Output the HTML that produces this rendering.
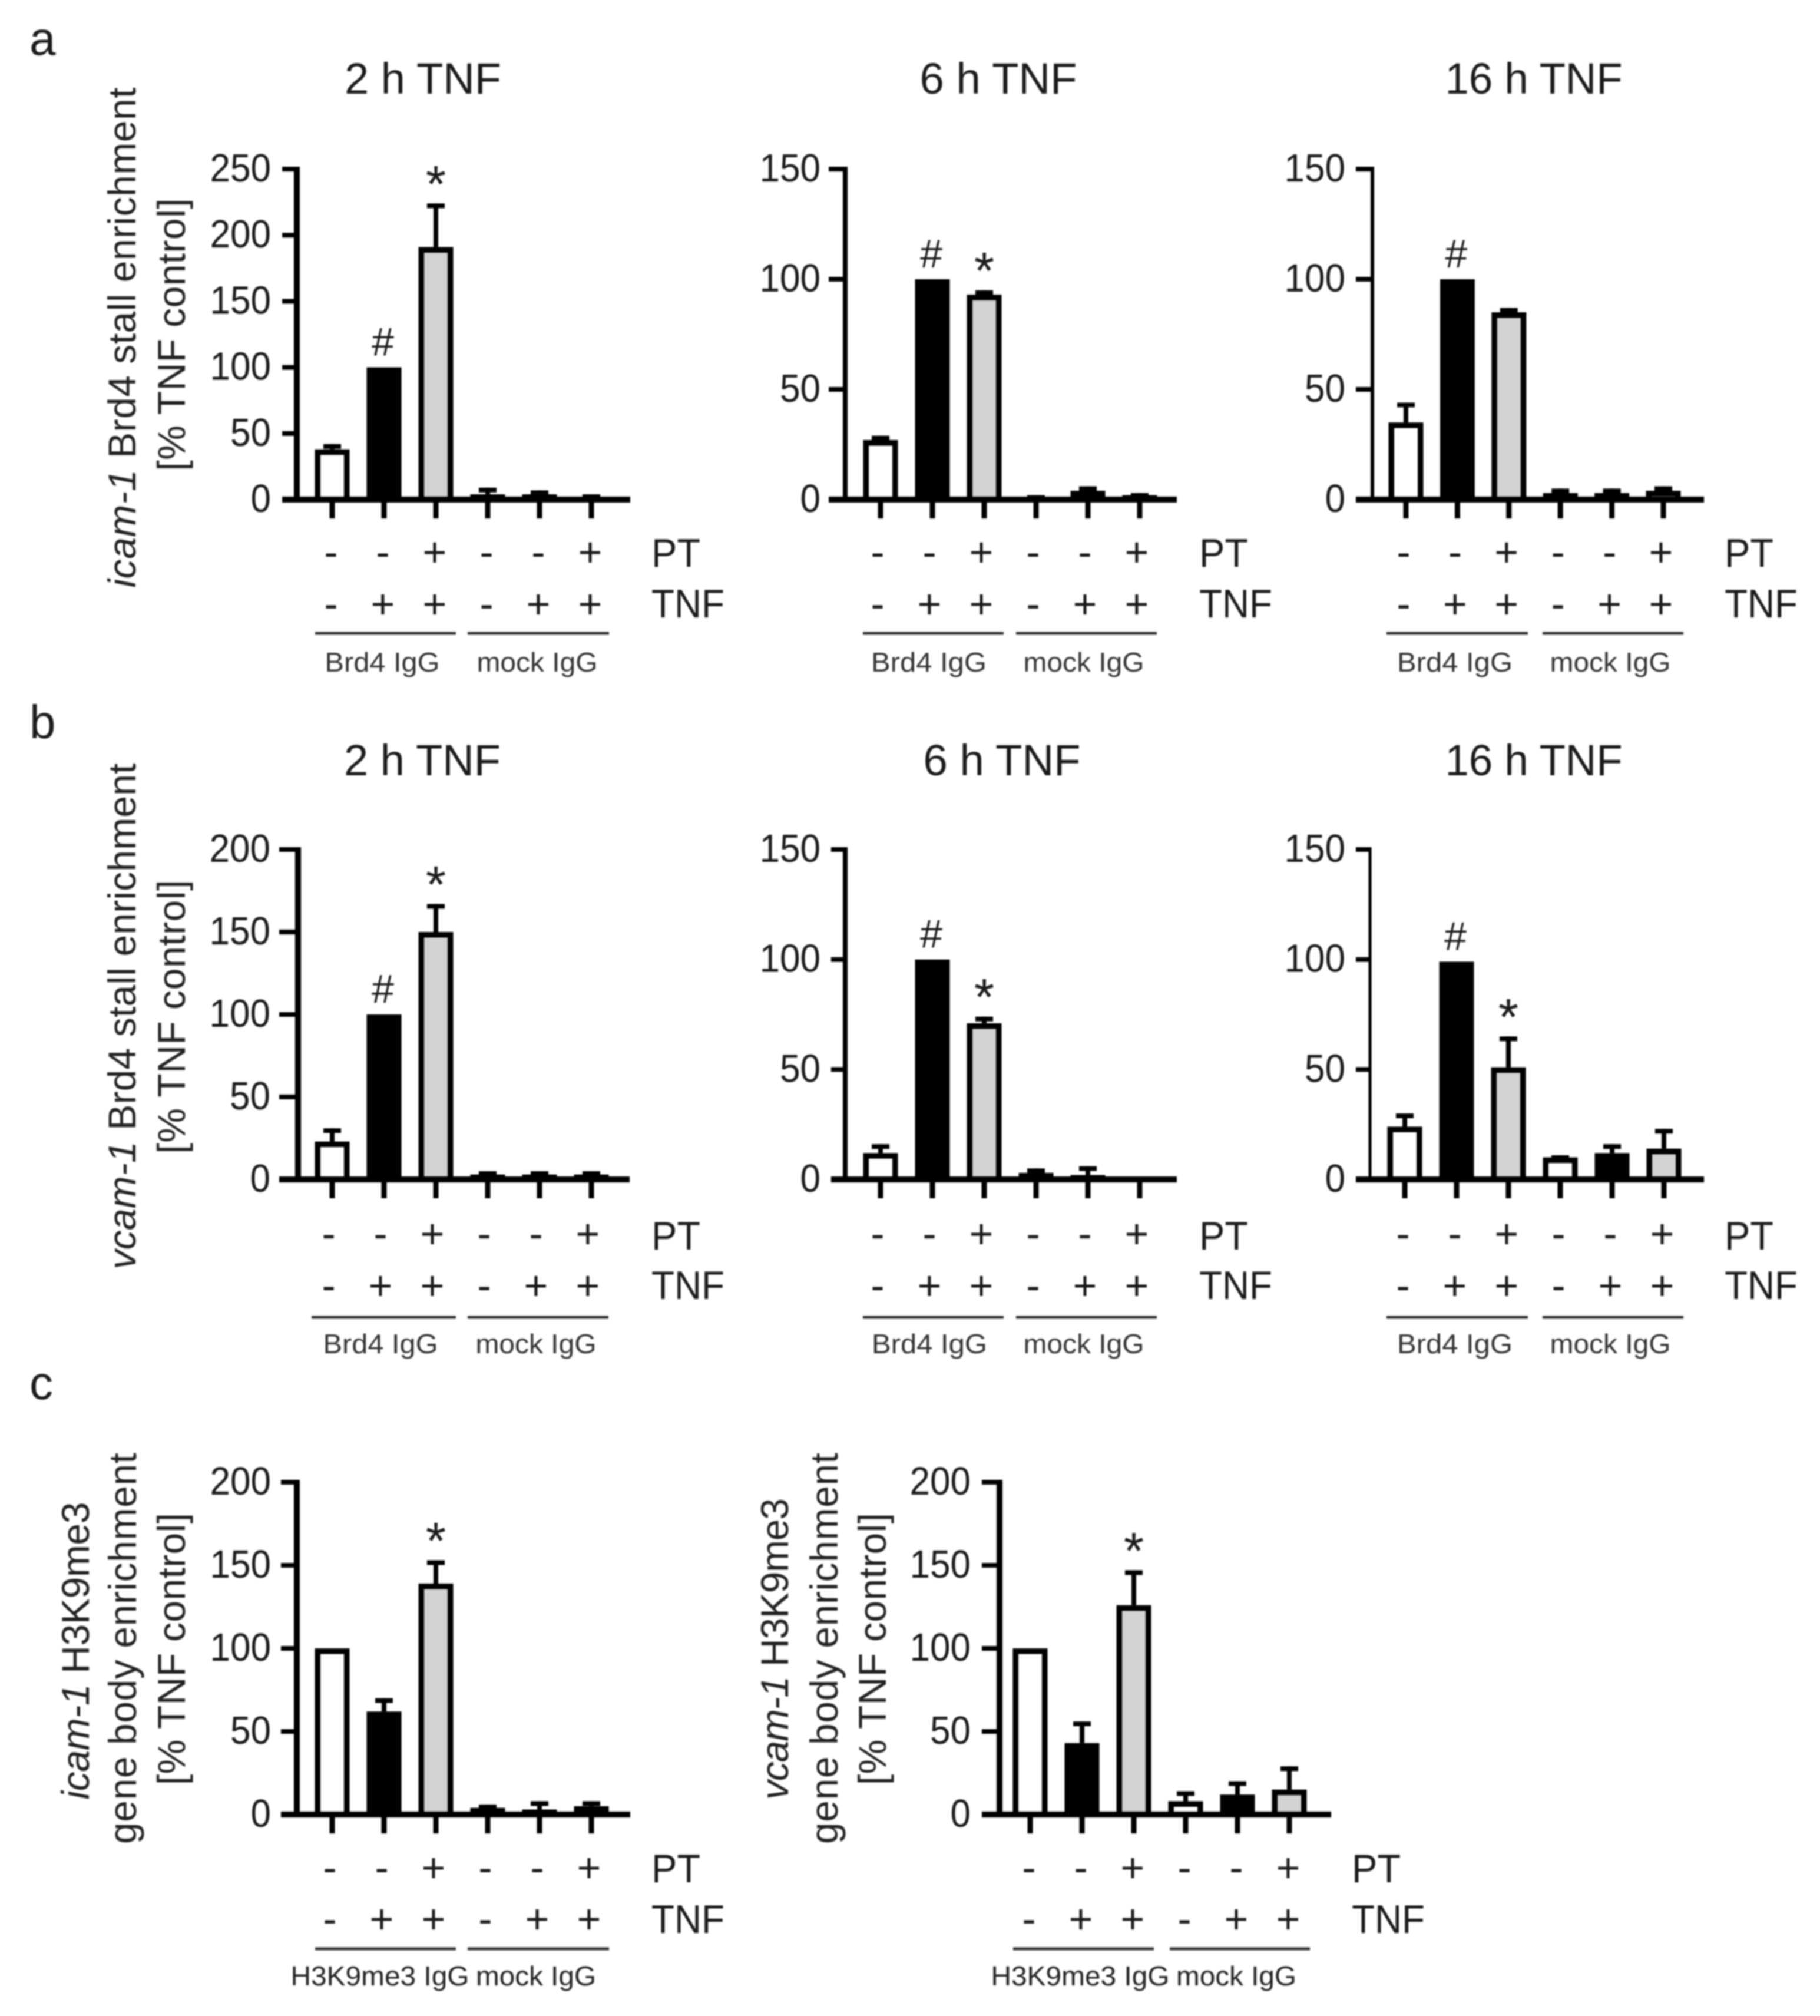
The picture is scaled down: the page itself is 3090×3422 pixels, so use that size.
<!DOCTYPE html>
<html lang="en">
<head>
<meta charset="utf-8">
<title>Brd4 and H3K9me3 enrichment bar charts</title>
<style>
html,body{margin:0;padding:0;background:#fff;width:3090px;height:3422px;overflow:hidden}
svg{display:block;filter:blur(1.3px)}
text{font-family:"Liberation Sans",sans-serif;fill:#1a1a1a}
.title{font-size:74px;text-anchor:middle}
.letter{font-size:80px}
.ytitle{font-size:66px;text-anchor:middle;fill:#222}
.cond{font-size:68px}
.grp{font-size:46px;text-anchor:middle;fill:#333}
.gline{stroke:#333;stroke-width:5}
</style>
</head>
<body>
<svg id="fig" xmlns="http://www.w3.org/2000/svg" width="3090" height="3422" viewBox="0 0 3090 3422">
<rect width="3090" height="3422" fill="#fff"/>

<text class="letter" x="50" y="93">a</text>
<text class="letter" x="50" y="1253">b</text>
<text class="letter" x="50" y="2375">c</text>

<text class="title" x="718" y="159">2 h TNF</text>
<text class="title" x="1695" y="159" textLength="267" lengthAdjust="spacingAndGlyphs">6 h TNF</text>
<text class="title" x="2604" y="159" textLength="301" lengthAdjust="spacingAndGlyphs">16 h TNF</text>
<text class="title" x="717" y="1316">2 h TNF</text>
<text class="title" x="1701" y="1316" textLength="267" lengthAdjust="spacingAndGlyphs">6 h TNF</text>
<text class="title" x="2604" y="1316" textLength="301" lengthAdjust="spacingAndGlyphs">16 h TNF</text>

<text class="ytitle" transform="translate(230,573) rotate(-90)" textLength="849"><tspan font-style="italic">icam-1</tspan> Brd4 stall enrichment</text>
<text class="ytitle" transform="translate(314,568) rotate(-90)" textLength="463">[% TNF control]</text>
<text class="ytitle" transform="translate(230,1725) rotate(-90)" textLength="859"><tspan font-style="italic">vcam-1</tspan> Brd4 stall enrichment</text>
<text class="ytitle" transform="translate(314,1726) rotate(-90)" textLength="465">[% TNF control]</text>
<text class="ytitle" transform="translate(151,2802) rotate(-90)" textLength="505"><tspan font-style="italic">icam-1</tspan> H3K9me3</text>
<text class="ytitle" transform="translate(231,2798) rotate(-90)" textLength="664">gene body enrichment</text>
<text class="ytitle" transform="translate(314,2799) rotate(-90)" textLength="462">[% TNF control]</text>
<text class="ytitle" transform="translate(1338,2799) rotate(-90)" textLength="512"><tspan font-style="italic">vcam-1</tspan> H3K9me3</text>
<text class="ytitle" transform="translate(1422,2798) rotate(-90)" textLength="664">gene body enrichment</text>
<text class="ytitle" transform="translate(1504,2799) rotate(-90)" textLength="462">[% TNF control]</text>

<text class="cond" x="1106" y="962" textLength="83" lengthAdjust="spacingAndGlyphs">PT</text>
<text class="cond" x="1106" y="1048" textLength="124" lengthAdjust="spacingAndGlyphs">TNF</text>
<text class="cond" x="2036" y="962" textLength="83" lengthAdjust="spacingAndGlyphs">PT</text>
<text class="cond" x="2036" y="1048" textLength="124" lengthAdjust="spacingAndGlyphs">TNF</text>
<text class="cond" x="2928" y="962" textLength="83" lengthAdjust="spacingAndGlyphs">PT</text>
<text class="cond" x="2928" y="1048" textLength="124" lengthAdjust="spacingAndGlyphs">TNF</text>
<text class="cond" x="1106" y="2121" textLength="83" lengthAdjust="spacingAndGlyphs">PT</text>
<text class="cond" x="1106" y="2205" textLength="124" lengthAdjust="spacingAndGlyphs">TNF</text>
<text class="cond" x="2036" y="2121" textLength="83" lengthAdjust="spacingAndGlyphs">PT</text>
<text class="cond" x="2036" y="2205" textLength="124" lengthAdjust="spacingAndGlyphs">TNF</text>
<text class="cond" x="2928" y="2121" textLength="83" lengthAdjust="spacingAndGlyphs">PT</text>
<text class="cond" x="2928" y="2205" textLength="124" lengthAdjust="spacingAndGlyphs">TNF</text>
<text class="cond" x="1106" y="3195" textLength="83" lengthAdjust="spacingAndGlyphs">PT</text>
<text class="cond" x="1106" y="3281" textLength="124" lengthAdjust="spacingAndGlyphs">TNF</text>
<text class="cond" x="2295" y="3195" textLength="83" lengthAdjust="spacingAndGlyphs">PT</text>
<text class="cond" x="2295" y="3281" textLength="124" lengthAdjust="spacingAndGlyphs">TNF</text>

<line class="gline" x1="535" x2="774" y1="1075" y2="1075"/>
<line class="gline" x1="794" x2="1034" y1="1075" y2="1075"/>
<line class="gline" x1="1465" x2="1704" y1="1075" y2="1075"/>
<line class="gline" x1="1725" x2="1964" y1="1075" y2="1075"/>
<line class="gline" x1="2354" x2="2594" y1="1075" y2="1075"/>
<line class="gline" x1="2619" x2="2858" y1="1075" y2="1075"/>
<line class="gline" x1="529" x2="774" y1="2236" y2="2236"/>
<line class="gline" x1="794" x2="1033" y1="2236" y2="2236"/>
<line class="gline" x1="1465" x2="1704" y1="2236" y2="2236"/>
<line class="gline" x1="1725" x2="1964" y1="2236" y2="2236"/>
<line class="gline" x1="2354" x2="2594" y1="2236" y2="2236"/>
<line class="gline" x1="2619" x2="2858" y1="2236" y2="2236"/>
<line class="gline" x1="535" x2="774" y1="3308" y2="3308"/>
<line class="gline" x1="794" x2="1034" y1="3308" y2="3308"/>
<line class="gline" x1="1720" x2="1959" y1="3308" y2="3308"/>
<line class="gline" x1="1986" x2="2224" y1="3308" y2="3308"/>

<text class="grp" x="649" y="1140" textLength="195" lengthAdjust="spacingAndGlyphs">Brd4 IgG</text>
<text class="grp" x="912" y="1140" textLength="205" lengthAdjust="spacingAndGlyphs">mock IgG</text>
<text class="grp" x="1577" y="1140" textLength="196" lengthAdjust="spacingAndGlyphs">Brd4 IgG</text>
<text class="grp" x="1840" y="1140" textLength="205" lengthAdjust="spacingAndGlyphs">mock IgG</text>
<text class="grp" x="2470" y="1140" textLength="196" lengthAdjust="spacingAndGlyphs">Brd4 IgG</text>
<text class="grp" x="2734" y="1140" textLength="205" lengthAdjust="spacingAndGlyphs">mock IgG</text>
<text class="grp" x="646" y="2297" textLength="195" lengthAdjust="spacingAndGlyphs">Brd4 IgG</text>
<text class="grp" x="910" y="2297" textLength="205" lengthAdjust="spacingAndGlyphs">mock IgG</text>
<text class="grp" x="1578" y="2297" textLength="196" lengthAdjust="spacingAndGlyphs">Brd4 IgG</text>
<text class="grp" x="1840" y="2297" textLength="205" lengthAdjust="spacingAndGlyphs">mock IgG</text>
<text class="grp" x="2470" y="2297" textLength="196" lengthAdjust="spacingAndGlyphs">Brd4 IgG</text>
<text class="grp" x="2734" y="2297" textLength="205" lengthAdjust="spacingAndGlyphs">mock IgG</text>
<text class="grp" x="645" y="3370" textLength="303" lengthAdjust="spacingAndGlyphs" style="fill:#222">H3K9me3 IgG</text>
<text class="grp" x="910" y="3370" textLength="204" lengthAdjust="spacingAndGlyphs" style="fill:#222">mock IgG</text>
<text class="grp" x="1834" y="3370" textLength="303" lengthAdjust="spacingAndGlyphs" style="fill:#222">H3K9me3 IgG</text>
<text class="grp" x="2099" y="3370" textLength="204" lengthAdjust="spacingAndGlyphs" style="fill:#222">mock IgG</text>

<g id="charts"></g>
</svg>

<script>
// Condition categories
const ptFlags = ['-', '-', '+', '-', '-', '+'];
const tnfFlags = ['-', '+', '+', '-', '+', '+'];

// Tick labels
const ticks250 = [0, 50, 100, 150, 200, 250];
const ticks200 = [0, 50, 100, 150, 200];
const ticks150 = [0, 50, 100, 150];

// Bar heights and upper error limits
const a2hValues = [38, 100, 191, 4, 4, 1];
const a2hUpper = [42, 100, 224, 9, 7, 4];
const a2hMarks = ['', '#', '*', '', '', ''];

const a6hValues = [27, 100, 93, 1, 4, 2];
const a6hUpper = [29, 100, 95, 2, 6, 3];
const a6hMarks = ['', '#', '*', '', '', ''];

const a16hValues = [35, 100, 85, 3, 3, 4];
const a16hUpper = [44, 100, 87, 5, 5, 6];
const a16hMarks = ['', '#', '', '', '', ''];

const b2hValues = [23, 100, 150, 3, 3, 3];
const b2hUpper = [31, 100, 167, 5, 5, 5];
const b2hMarks = ['', '#', '*', '', '', ''];

const b6hValues = [12, 100, 71, 3, 2, 1];
const b6hUpper = [16, 100, 74, 5, 6, 1];
const b6hMarks = ['', '#', '*', '', '', ''];

const b16hValues = [24, 99, 51, 10, 12, 14];
const b16hUpper = [30, 99, 65, 11, 16, 23];
const b16hMarks = ['', '#', '*', '', '', ''];

const cLeftValues = [100, 62, 139, 4, 3, 5];
const cLeftUpper = [100, 70, 153, 6, 8, 8];
const cLeftMarks = ['', '', '*', '', '', ''];

const cRightValues = [100, 43, 126, 8, 12, 15];
const cRightUpper = [100, 56, 147, 14, 20, 29];
const cRightMarks = ['', '', '*', '', '', ''];

const NS = 'http://www.w3.org/2000/svg';
const root = document.getElementById('charts');
const fills = ['#ffffff', '#000000', '#d3d3d3'];

function mk(tag, attrs, parent) {
  const n = document.createElementNS(NS, tag);
  for (const k in attrs) n.setAttribute(k, attrs[k]);
  parent.appendChild(n);
  return n;
}

function drawPanel(p) {
  const g = mk('g', {}, root);
  
  

  const y = v => p.base - (v / p.max) * (p.base - p.top);
  const x = i => p.x0 + i * p.step;
  const barW = 59, sw = 9.5, capW = 30, capH = 8, stemW = 8;

  // error bars
  p.values.forEach((v, i) => {
    const up = p.upper[i];
    if (up <= v) return;
    const stem = mk('rect', {x: x(i) - stemW / 2, y: y(up), width: stemW, height: y(v) - y(up), fill: '#000'}, g);
    
    
    const cap = mk('rect', {x: x(i) - capW / 2, y: y(up), width: capW, height: capH, fill: '#000'}, g);
    
    
  });

  // bars
  p.values.forEach((v, i) => {
    const h = Math.max(0, p.base - y(v) - sw / 2);
    const bar = mk('rect', {x: x(i) - barW / 2 + sw / 2, y: y(v) + sw / 2, width: barW - sw, height: h, fill: fills[i % 3], stroke: '#000', 'stroke-width': sw}, g);
    
    
  });

  // y axis
  const yAxis = mk('rect', {x: p.axisX - p.axisW / 2, y: p.top - 4, width: p.axisW, height: p.base - p.top + 8, fill: '#000'}, g);
  
  

  // y ticks
  p.ticks.forEach(t => {
    const tk = mk('rect', {x: p.tickLeft, y: y(t) - 4, width: p.axisX - p.tickLeft, height: 8, fill: '#000'}, g);
    
    
    const s = String(t);
    const lb = mk('text', {x: p.labelRight, y: y(t) + 21, 'text-anchor': 'end', 'font-size': 67, textLength: s.length * 34.5, lengthAdjust: 'spacingAndGlyphs'}, g);
    lb.textContent = s;
    
    
  });

  // x axis
  const xAxis = mk('rect', {x: p.tickLeft, y: p.base - 5, width: p.xEnd - p.tickLeft, height: 10, fill: '#000'}, g);
  
  

  // x ticks, condition signs, significance marks
  p.values.forEach((v, i) => {
    const tk = mk('rect', {x: x(i) - 4.5, y: p.base, width: 9, height: 32, fill: '#000'}, g);
    
    

    const sx = x(i) + p.signOffset;
    const pt = mk('text', {x: sx, y: p.ptY + 24, 'text-anchor': 'middle', 'font-size': 70}, g);
    pt.textContent = ptFlags[i];
    
    
    const tn = mk('text', {x: sx, y: p.tnfY + 24, 'text-anchor': 'middle', 'font-size': 70}, g);
    tn.textContent = tnfFlags[i];
    
    

    const mark = p.marks[i];
    if (mark === '#') {
      const m = mk('text', {x: x(i) - 2, y: y(p.upper[i]) - 20, 'text-anchor': 'middle', 'font-size': 68}, g);
      m.textContent = mark;
      
      
    } else if (mark === '*') {
      const m = mk('text', {x: x(i), y: y(p.upper[i]) - 3, 'text-anchor': 'middle', 'font-size': 88}, g);
      m.textContent = mark;
      
      
    }
  });
}

drawPanel({id: 'a-2h', values: a2hValues, upper: a2hUpper, marks: a2hMarks, ticks: ticks250, max: 250, top: 287, base: 848, axisX: 504, axisW: 10, tickLeft: 479, labelRight: 460, xEnd: 1070, x0: 564, step: 88, signOffset: -2, ptY: 937, tnfY: 1025});
drawPanel({id: 'a-6h', values: a6hValues, upper: a6hUpper, marks: a6hMarks, ticks: ticks150, max: 150, top: 287, base: 848, axisX: 1435, axisW: 8, tickLeft: 1407, labelRight: 1393, xEnd: 1998, x0: 1495, step: 88, signOffset: -5, ptY: 937, tnfY: 1025});
drawPanel({id: 'a-16h', values: a16hValues, upper: a16hUpper, marks: a16hMarks, ticks: ticks150, max: 150, top: 287, base: 848, axisX: 2330, axisW: 6, tickLeft: 2302, labelRight: 2284, xEnd: 2893, x0: 2387, step: 87.4, signOffset: -4, ptY: 937, tnfY: 1025});
drawPanel({id: 'b-2h', values: b2hValues, upper: b2hUpper, marks: b2hMarks, ticks: ticks200, max: 200, top: 1442, base: 2002, axisX: 506, axisW: 10, tickLeft: 474, labelRight: 459, xEnd: 1069, x0: 564, step: 88, signOffset: -6, ptY: 2094, tnfY: 2182});
drawPanel({id: 'b-6h', values: b6hValues, upper: b6hUpper, marks: b6hMarks, ticks: ticks150, max: 150, top: 1442, base: 2002, axisX: 1435, axisW: 8, tickLeft: 1411, labelRight: 1393, xEnd: 1998, x0: 1495, step: 88, signOffset: -5, ptY: 2094, tnfY: 2182});
drawPanel({id: 'b-16h', values: b16hValues, upper: b16hUpper, marks: b16hMarks, ticks: ticks150, max: 150, top: 1442, base: 2002, axisX: 2326, axisW: 5, tickLeft: 2302, labelRight: 2284, xEnd: 2893, x0: 2385, step: 88, signOffset: -3, ptY: 2094, tnfY: 2182});
drawPanel({id: 'c-left', values: cLeftValues, upper: cLeftUpper, marks: cLeftMarks, ticks: ticks200, max: 200, top: 2516, base: 3080, axisX: 504, axisW: 10, tickLeft: 477, labelRight: 460, xEnd: 1070, x0: 564, step: 88, signOffset: -4, ptY: 3170, tnfY: 3257});
drawPanel({id: 'c-right', values: cRightValues, upper: cRightUpper, marks: cRightMarks, ticks: ticks200, max: 200, top: 2516, base: 3080, axisX: 1697, axisW: 10, tickLeft: 1667, labelRight: 1648, xEnd: 2260, x0: 1749, step: 88, signOffset: -2, ptY: 3170, tnfY: 3257});
</script>
</body>
</html>
